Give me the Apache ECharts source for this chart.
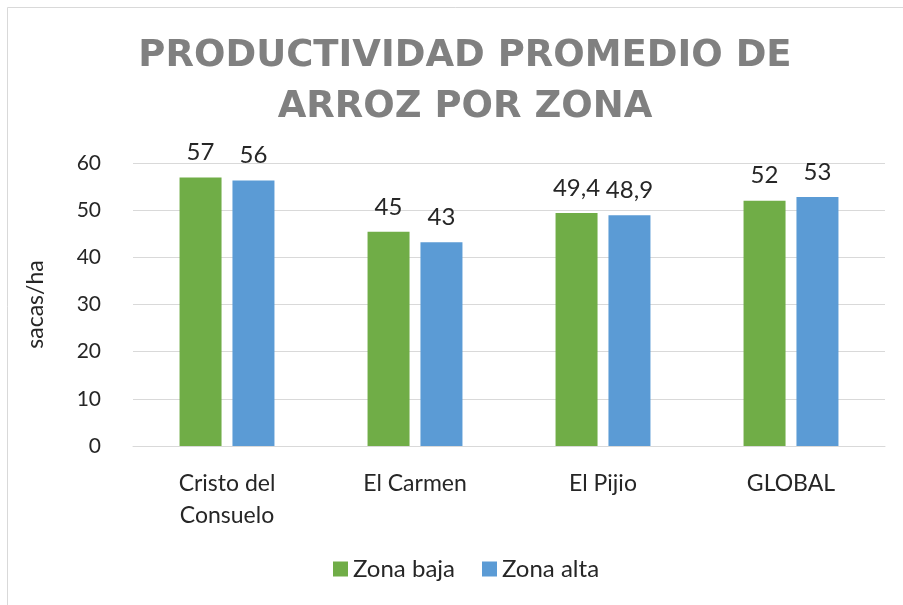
<!DOCTYPE html>
<html><head><meta charset="utf-8">
<script src="https://cdn.jsdelivr.net/npm/echarts@6/dist/echarts.min.js"></script>
<style>html,body{margin:0;padding:0;background:#fff}#c{width:903px;height:605px}</style>
</head><body><div id="c"></div>
<script>
const categories = ['Cristo del\nConsuelo', 'El Carmen', 'El Pijio', 'GLOBAL'];
const zonaBaja = [56.9, 45.4, 49.4, 52.0];
const zonaAlta = [56.3, 43.2, 48.9, 52.8];
const labelsBaja = ['57', '45', '49,4', '52'];
const labelsAlta = ['56', '43', '48,9', '53'];
const yTicks = [0, 10, 20, 30, 40, 50, 60];

const chart = echarts.init(document.getElementById('c'), null, {renderer: 'canvas'});
const font = 'Lato, "Open Sans", sans-serif';
chart.setOption({
  animation: false,
  backgroundColor: '#fff',
  graphic: [{type: 'rect', left: 5, top: 5, shape: {width: 910, height: 620}, style: {fill: 'none', stroke: '#d9d9d9', lineWidth: 1}, silent: true}],
  title: {
    text: 'PRODUCTIVIDAD PROMEDIO DE\nARROZ POR ZONA',
    left: 460, top: 26, textAlign: 'center',
    textStyle: {fontFamily: '"DejaVu Sans", sans-serif', fontWeight: 'bold', fontSize: 37, color: '#808080', lineHeight: 51}
  },
  legend: {
    bottom: 19, left: 328, itemWidth: 15, itemHeight: 15, itemGap: 27,
    icon: 'rect',
    textStyle: {fontFamily: font, fontSize: 24, color: '#262626'},
    data: ['Zona baja', 'Zona alta']
  },
  grid: {left: 133, right: 18, top: 163, bottom: 159},
  xAxis: {
    type: 'category', data: categories,
    axisLine: {lineStyle: {color: '#d9d9d9'}}, axisTick: {show: false},
    axisLabel: {fontFamily: font, fontSize: 23, color: '#262626', margin: 22, lineHeight: 32}
  },
  yAxis: {
    type: 'value', min: yTicks[0], max: yTicks[yTicks.length - 1], interval: 10,
    name: 'sacas/ha', nameLocation: 'middle', nameGap: 86, nameRotate: 90,
    nameTextStyle: {fontFamily: font, fontSize: 23, color: '#262626'},
    axisLabel: {fontFamily: font, fontSize: 21, color: '#262626', margin: 32},
    splitLine: {lineStyle: {color: '#d9d9d9', width: 1}},
    axisLine: {show: false}, axisTick: {show: false}
  },
  series: [
    {name: 'Zona baja', type: 'bar', data: zonaBaja, barWidth: 42, barGap: '26%',
     itemStyle: {color: '#70ad47'},
     label: {show: true, position: 'top', distance: 13, fontFamily: font, fontSize: 24, color: '#262626',
       formatter: p => labelsBaja[p.dataIndex]}},
    {name: 'Zona alta', type: 'bar', data: zonaAlta, barWidth: 42, barGap: '26%',
     itemStyle: {color: '#5b9bd5'},
     label: {show: true, position: 'top', distance: 13, fontFamily: font, fontSize: 24, color: '#262626',
       formatter: p => labelsAlta[p.dataIndex]}}
  ]
});
</script></body></html>
